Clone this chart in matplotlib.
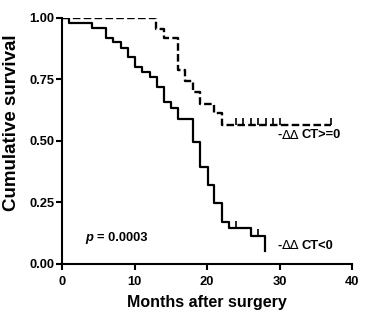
import matplotlib
matplotlib.use('Agg')
import matplotlib.pyplot as plt
import numpy as np

plt.rcParams['font.family'] = ['Liberation Sans', 'DejaVu Sans']

# -ddCT < 0 group (solid)
low_t = [0, 1.0, 4.1, 6.0, 7.0, 8.1, 9.1, 10.1, 11.1, 12.1, 13.1, 14.1, 15.1, 16.0,
         18.0, 19.0, 20.1, 21.0, 22.1, 23.1, 26.1, 28.0]
low_s = [1.0, 0.978, 0.958, 0.920, 0.904, 0.879, 0.840, 0.802, 0.782, 0.759, 0.718,
         0.658, 0.636, 0.590, 0.495, 0.393, 0.321, 0.247, 0.170, 0.145, 0.114, 0.054]
low_cens = [24.0, 27.1]

# -ddCT >= 0 group (dashed)
high_t = [0, 13.0, 14.0, 16.0, 17.0, 18.0, 19.0, 21.0, 22.0, 37.1]
high_s = [1.0, 0.957, 0.917, 0.787, 0.743, 0.698, 0.652, 0.613, 0.567, 0.567]
high_cens = [24.0, 25.0, 26.0, 27.1, 28.2, 29.1, 30.0, 37.1]

FS_TICK = 9.3
FS_XLAB = 11.5
FS_YLAB = 13.5


def level_at(times, surv, t):
    idx = np.searchsorted(times, t, side='right') - 1
    return np.asarray(surv)[idx]


fig = plt.figure(figsize=(3.7, 3.16), dpi=100)
ax = fig.add_axes([0.1676, 0.1646, 0.7838, 0.7785])

ax.step(low_t, low_s, where='post', color='black', linewidth=1.6)
ax.step(high_t, high_s, where='post', color='black', linewidth=1.7,
        linestyle=(0, (3.2, 1.4)))

ax.plot(low_cens, level_at(low_t, low_s, low_cens), linestyle='none',
        marker=2, markersize=5, markeredgewidth=1.2, color='black')
ax.plot(high_cens, level_at(high_t, high_s, high_cens), linestyle='none',
        marker=2, markersize=5, markeredgewidth=1.2, color='black')

ax.set_xlim(0, 40)
ax.set_ylim(0, 1.0)
ax.set_xticks([0, 10, 20, 30, 40])
ax.set_yticks([0, 0.25, 0.5, 0.75, 1.0])
ax.set_yticklabels(['0.00', '0.25', '0.50', '0.75', '1.00'])
for s in ['top', 'right']:
    ax.spines[s].set_visible(False)
for s in ['left', 'bottom']:
    ax.spines[s].set_linewidth(1.5)
    ax.spines[s].set_clip_on(False)
ax.tick_params(direction='out', length=4, width=1.5, labelsize=FS_TICK)
ax.tick_params(axis='x', pad=4.5)
ax.tick_params(axis='y', pad=1.5)
for lab in ax.get_xticklabels() + ax.get_yticklabels():
    lab.set_fontweight('bold')

ax.set_xlabel('Months after surgery', fontsize=FS_XLAB, fontweight='bold', labelpad=5)
ax.set_ylabel('Cumulative survival', fontsize=FS_YLAB, fontweight='bold')
ax.yaxis.set_label_coords(-0.145, 0.575)

ax.text(3.2, 0.106, 'p', fontsize=FS_TICK, fontweight='bold', style='italic', va='center')
ax.text(4.8, 0.106, '= 0.0003', fontsize=FS_TICK, fontweight='bold', va='center')

for y, tail in [(0.524, 'CT>=0'), (0.074, 'CT<0')]:
    ax.text(29.7, y, '-', fontsize=FS_TICK, fontweight='bold', va='center')
    ax.text(30.3, y, 'ΔΔ', fontsize=FS_TICK, va='center', family='DejaVu Sans')
    ax.text(33.0, y, tail, fontsize=FS_TICK, fontweight='bold', va='center')

fig.savefig('out.png', dpi=100)
